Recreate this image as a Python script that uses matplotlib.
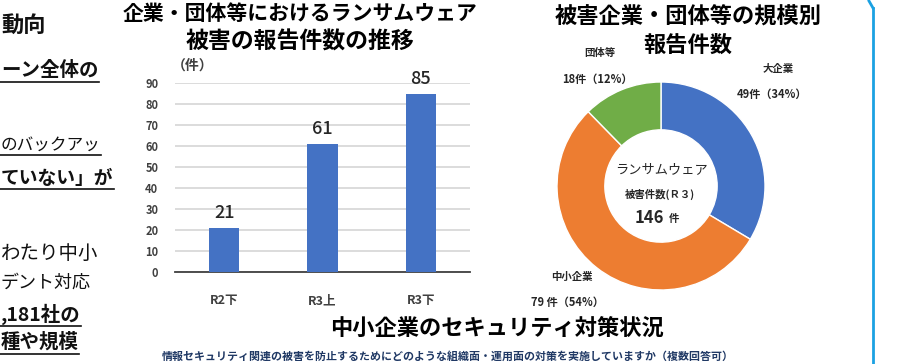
import matplotlib
matplotlib.use("Agg")
import matplotlib.pyplot as plt
from matplotlib.lines import Line2D

plt.rcParams['font.family'] = ['Noto Sans CJK JP', 'DejaVu Sans']

# bar chart data
periods = ["R2下", "R3上", "R3下"]
reports = [21, 61, 85]

# donut data (clockwise from top)
sizes = ["大企業", "中小企業", "団体等"]
size_counts = [49, 79, 18]
size_pcts = [34, 54, 12]
size_colors = ["#4472C4", "#ED7D31", "#70AD47"]

W, H = 924, 364


def px(x, y):
    return x / W, 1 - y / H


fig = plt.figure(figsize=(W / 100, H / 100), dpi=100)
fig.patch.set_facecolor("white")

# ---- bar chart ----
ax = fig.add_axes([175 / W, 1 - 272 / H, 295 / W, 189 / H])
ax.bar(range(len(periods)), reports, width=0.31, color="#4472C4", zorder=3)
ax.set_xlim(-0.5, 2.5)
ax.set_ylim(0, 90)
ax.set_yticks(range(0, 91, 10))
ax.grid(axis="y", color="#D9D9D9", linewidth=1.3, zorder=0)
for s in ["top", "right", "left"]:
    ax.spines[s].set_visible(False)
ax.spines["bottom"].set_color("#404040")
ax.spines["bottom"].set_linewidth(1.3)
ax.tick_params(length=0)
ax.tick_params(axis="y", pad=12, labelsize=8, labelcolor="#404040")
ax.tick_params(axis="x", pad=16, labelsize=9, labelcolor="#404040")
ax.set_xticks(range(len(periods)))
ax.set_xticklabels(periods, fontweight="bold")
for lab in ax.get_yticklabels():
    lab.set_fontweight("bold")
for i, v in enumerate(reports):
    ax.annotate(str(v), (i, v), xytext=(0, 4), textcoords="offset points",
                ha="center", va="bottom", fontsize=13, fontweight="medium",
                color="#262626")

fig.text(*px(193, 66), "（件）", ha="center", va="center", fontsize=10,
         fontweight="bold", color="#404040")
fig.text(*px(300, 13), "企業・団体等におけるランサムウェア", ha="center", va="center",
         fontsize=15, fontweight="bold")
fig.text(*px(300, 42), "被害の報告件数の推移", ha="center", va="center",
         fontsize=16.5, fontweight="bold")

# ---- donut ----
ax2 = fig.add_axes([557 / W, 1 - 290 / H, 208 / W, 208 / H])
ax2.pie(size_counts, colors=size_colors, startangle=90, counterclock=False,
        radius=1, wedgeprops=dict(width=0.46, edgecolor="white", linewidth=1))
ax2.set_xlim(-1, 1)
ax2.set_ylim(-1, 1)
ax2.set_aspect("equal")
ax2.axis("off")

label_pos = [(778, 69, 772, 94), (572, 277, 567, 302), (600, 53, 597, 79)]
for name, n, p, (x1, y1, x2, y2) in zip(sizes, size_counts, size_pcts, label_pos):
    fig.text(*px(x1, y1), name, ha="center", va="center", fontsize=7.5,
             fontweight="bold", color="#262626")
    sep = " 件" if name == "中小企業" else "件"
    fig.text(*px(x2, y2), f"{n}{sep}（{p}%）", ha="center", va="center",
             fontsize=8, fontweight="bold", color="#262626")

fig.text(*px(662, 170), "ランサムウェア", ha="center", va="center", fontsize=9.5,
         color="#262626")
fig.text(*px(660, 194), "被害件数(Ｒ３)", ha="center", va="center", fontsize=7.5,
         fontweight="bold", color="#262626")
fig.text(*px(664, 218), str(sum(size_counts)), ha="right", va="center", fontsize=12,
         fontweight="bold", color="#262626")
fig.text(*px(669, 219), "件", ha="left", va="center", fontsize=7.5,
         fontweight="bold", color="#262626")

fig.text(*px(688, 17), "被害企業・団体等の規模別", ha="center", va="center",
         fontsize=16, fontweight="bold")
fig.text(*px(688, 45), "報告件数", ha="center", va="center",
         fontsize=16, fontweight="bold")

# ---- bottom headings ----
fig.text(*px(497, 328), "中小企業のセキュリティ対策状況", ha="center", va="center",
         fontsize=16, fontweight="bold")
fig.text(*px(448, 356),
         "情報セキュリティ関連の被害を防止するためにどのような組織面・運用面の対策を実施していますか（複数回答可）",
         ha="center", va="center", fontsize=7.9, fontweight="bold", color="#1F3864")

# ---- left text column (slide text cut by the crop) ----
left_lines = [
    ("動向", 25, 16, "bold", False),
    ("ーン全体の", 70, 14, "bold", True),
    ("のバックアッ", 145, 12, "normal", True),
    ("ていない」が", 178, 13.5, "bold", True),
    ("わたり中小", 253, 14, "normal", False),
    ("デント対応", 283, 13, "normal", False),
    (",181社の", 314, 14, "bold", True),
    ("種や規模", 342, 14, "bold", True),
]
texts = []
for s, y, fs, fw, ul in left_lines:
    t = fig.text(*px(1, y), s, ha="left", va="center", fontsize=fs,
                 fontweight=fw, color="#111111")
    texts.append((t, ul, y, fs))

fig.canvas.draw()
r = fig.canvas.get_renderer()
for t, ul, y, fs in texts:
    if ul:
        bb = t.get_window_extent(r)
        uy = y + fs * 0.85
        fig.add_artist(Line2D([0, bb.x1 / W], [1 - uy / H, 1 - uy / H],
                              color="#111111", linewidth=1.2))

# cyan frame edge on the right
fig.add_artist(Line2D([873 / W, 873 / W], [1 - 8 / H, 0], color="#1BA1E2",
                      linewidth=2))
fig.add_artist(Line2D([873 / W, 869 / W], [1 - 8 / H, 1 - 1 / H],
                      color="#1BA1E2", linewidth=2))

fig.savefig("out.png", dpi=100, facecolor="white")
